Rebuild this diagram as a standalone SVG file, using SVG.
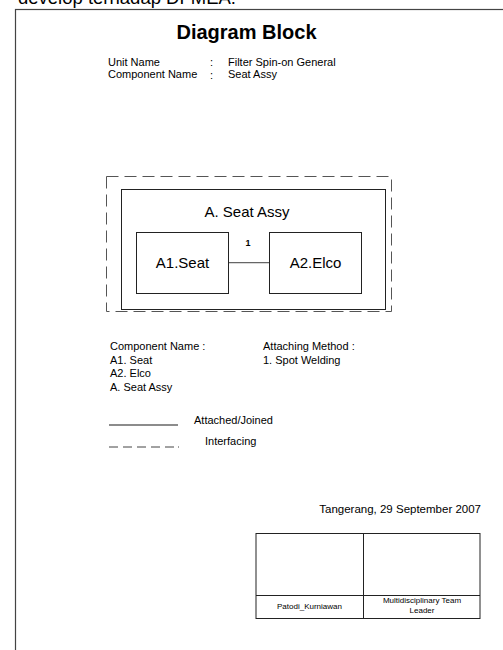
<svg xmlns="http://www.w3.org/2000/svg" width="503" height="650" viewBox="0 0 503 650">
<style>
text{font-family:"Liberation Sans",Arial,sans-serif;fill:#000}
.s{font-size:11px}
.box{fill:none;stroke:#222;stroke-width:1}
.link{stroke:#666;stroke-width:1.3;fill:none}
.dash{fill:none;stroke:#555;stroke-width:1;stroke-dasharray:12 6}
.sm{font-size:8px;text-anchor:middle}
</style>
<rect width="503" height="650" fill="#fff"/>
<text x="18" y="4" style="font-size:18.5px">develop terhadap DFMEA.</text>
<rect x="15.5" y="9.5" width="500" height="660" fill="none" stroke="#444" stroke-width="1.2"/>
<text x="246.5" y="39" style="font-size:20px;font-weight:bold;text-anchor:middle">Diagram Block</text>
<text class="s" x="108" y="66">Unit Name</text>
<text class="s" x="210" y="66">:</text>
<text class="s" x="228" y="66">Filter Spin-on General</text>
<text class="s" x="108" y="78">Component Name</text>
<text class="s" x="210" y="79">:</text>
<text class="s" x="228" y="78">Seat Assy</text>
<g id="interface">
<rect class="dash" x="106.5" y="176.5" width="285" height="135"/>
</g>
<g id="A">
<rect class="box" x="121.5" y="189.5" width="264" height="120"/>
<text x="247" y="217" style="font-size:15px;text-anchor:middle">A. Seat Assy</text>
</g>
<g id="A1">
<rect class="box" x="136.5" y="232.5" width="92" height="61"/>
<text x="182.5" y="268" style="font-size:15px;text-anchor:middle">A1.Seat</text>
</g>
<g id="A2">
<rect class="box" x="269.5" y="232.5" width="92" height="61"/>
<text x="315.5" y="268" style="font-size:15px;text-anchor:middle">A2.Elco</text>
</g>
<g id="connectors">
<line class="link" x1="229" y1="262.7" x2="269" y2="262.7"/>
<text x="248" y="246" style="font-size:9px;font-weight:bold;text-anchor:middle">1</text>
</g>
<text class="s" x="110" y="350">Component Name :</text>
<text class="s" x="110" y="363.5">A1. Seat</text>
<text class="s" x="110" y="377">A2. Elco</text>
<text class="s" x="110" y="391">A. Seat Assy</text>
<text class="s" x="263" y="350">Attaching Method :</text>
<text class="s" x="263" y="363.5">1. Spot Welding</text>
<line class="link" x1="109" y1="425" x2="178" y2="425"/>
<text class="s" x="194" y="424">Attached/Joined</text>
<line x1="109" y1="447" x2="179" y2="447" stroke="#444" stroke-width="1" stroke-dasharray="9 5 9 5 9 5 9 5 9 4 1.5 20"/>
<text class="s" x="205" y="445">Interfacing</text>
<text class="s" x="481" y="513" style="font-size:11.5px;text-anchor:end">Tangerang, 29 September 2007</text>
<g id="signatures">
<rect class="box" x="256" y="533.5" width="224" height="85"/>
<line class="box" x1="363.5" y1="533.5" x2="363.5" y2="618.5"/>
<line class="box" x1="256" y1="595.5" x2="480" y2="595.5"/>
<text class="sm" x="309.5" y="609">Patodi_Kurniawan</text>
<text class="sm" x="422" y="603">Multidisciplinary Team</text>
<text class="sm" x="422" y="612.5">Leader</text>
</g>
</svg>
